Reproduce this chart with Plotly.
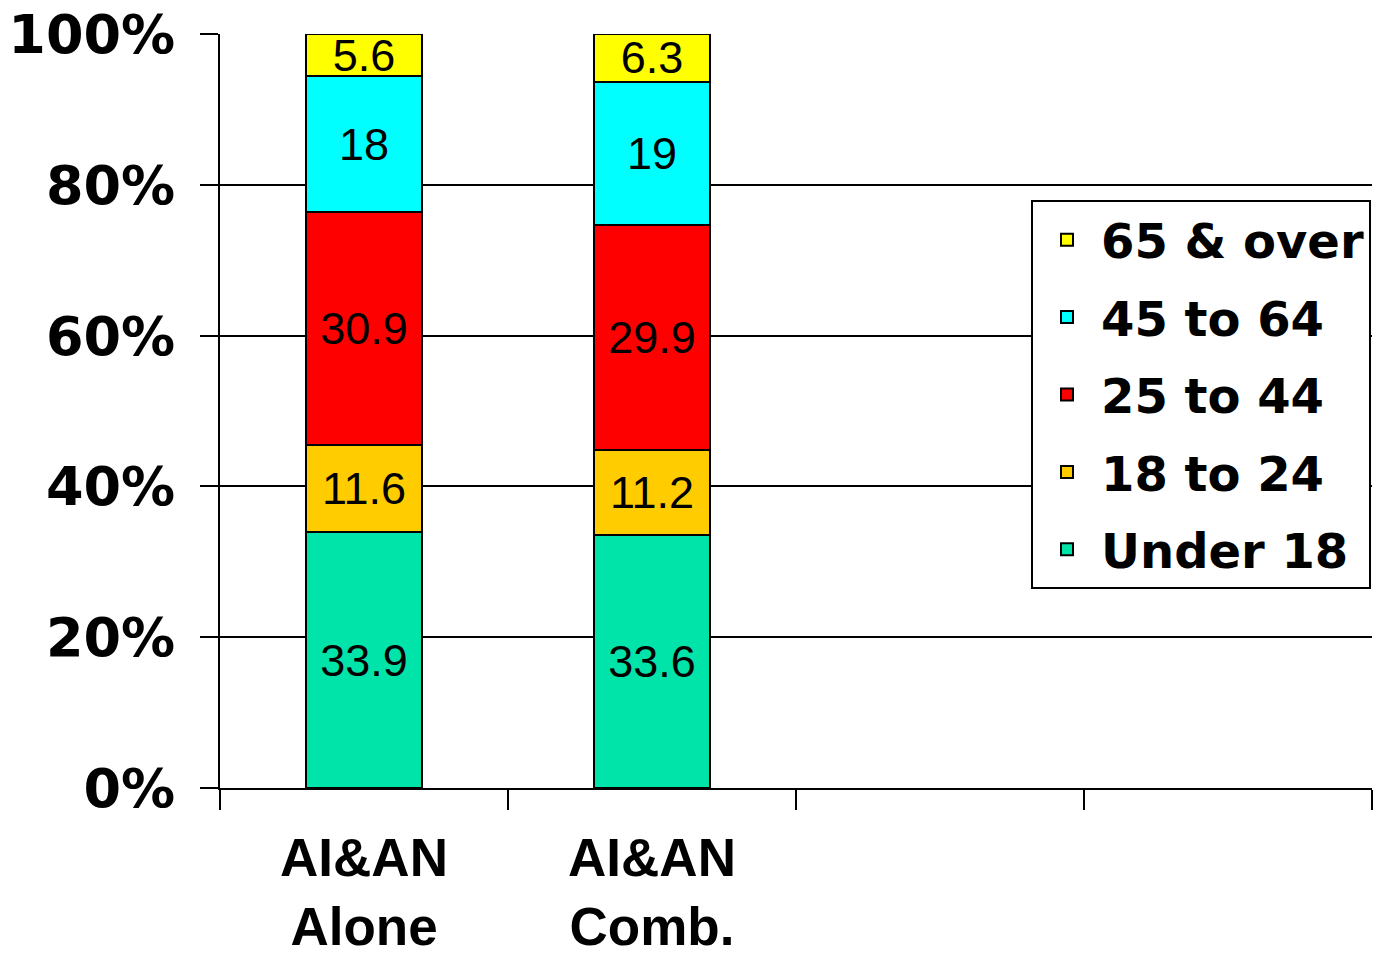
import plotly.graph_objects as go

# Category slots on the x axis (two populated groups, two empty slots)
categories = ["AI&AN<br>Alone", "AI&AN<br>Comb."]
empty_slots = [" ", "  "]

# Age-group shares (percent of each population), bottom to top of the stack
age_groups = ["Under 18", "18 to 24", "25 to 44", "45 to 64", "65 & over"]
under_18 = [33.9, 33.6]
age_18_24 = [11.6, 11.2]
age_25_44 = [30.9, 29.9]
age_45_64 = [18, 19]
age_65_over = [5.6, 6.3]

y_ticks = [0, 20, 40, 60, 80, 100]
y_tick_labels = ["0%", "20%", "40%", "60%", "80%", "100%"]

colors = ["#00E3A9", "#FFCC00", "#FF0000", "#00FFFF", "#FFFF00"]
series = [under_18, age_18_24, age_25_44, age_45_64, age_65_over]

x_all = categories + empty_slots

fig = go.Figure()
for i, (name, vals, col) in enumerate(zip(age_groups, series, colors)):
    yvals = list(vals) + [None] * len(empty_slots)
    texts = [f"{v:g}" for v in vals] + [""] * len(empty_slots)
    fig.add_trace(go.Bar(
        x=x_all,
        y=yvals,
        name=name,
        legendgroup=name,
        legendrank=len(age_groups) - i,  # top segment listed first
        marker=dict(color=col, line=dict(color="black", width=2)),
        text=texts,
        textposition="inside",
        insidetextanchor="middle",
        textangle=0,
        textfont=dict(family="Liberation Sans, Arial, sans-serif", size=45, color="black"),
        cliponaxis=False,
        hoverinfo="skip",
    ))

fig.update_layout(
    width=1374,
    height=967,
    barmode="stack",
    bargap=0.595,
    paper_bgcolor="white",
    plot_bgcolor="white",
    margin=dict(l=220, r=2, t=34, b=179, autoexpand=False),
    uniformtext=dict(minsize=45, mode="show"),
    showlegend=True,
    legend=dict(
        x=(1031 - 220) / 1152,
        y=(788 - 200) / 754,
        xanchor="left",
        yanchor="top",
        traceorder="grouped",
        tracegroupgap=12,
        bgcolor="white",
        bordercolor="black",
        borderwidth=2,
        font=dict(family="DejaVu Sans, Verdana, sans-serif", size=48, color="black", weight="bold"),
        itemwidth=58,
    ),
    xaxis=dict(
        type="category",
        categoryorder="array",
        categoryarray=x_all,
        range=[-0.5, len(x_all) - 0.5],
        tickson="boundaries",
        ticks="outside",
        ticklen=20,
        tickwidth=2,
        tickcolor="black",
        showline=True,
        linecolor="black",
        linewidth=2,
        showgrid=False,
        automargin=False,
        ticklabelstandoff=22,
        tickfont=dict(family="Liberation Sans, Arial, sans-serif", size=53, color="black", weight="bold"),
    ),
    yaxis=dict(
        range=[0, 100],
        tickmode="array",
        tickvals=y_ticks,
        ticktext=y_tick_labels,
        ticks="outside",
        ticklen=18,
        tickwidth=2,
        tickcolor="black",
        showline=True,
        linecolor="black",
        linewidth=2,
        showgrid=True,
        gridcolor="black",
        gridwidth=2,
        zeroline=False,
        automargin=False,
        ticklabelstandoff=14,
        tickfont=dict(family="DejaVu Sans, Verdana, sans-serif", size=54, color="black", weight="bold"),
    ),
)

fig.write_html("out.html")
